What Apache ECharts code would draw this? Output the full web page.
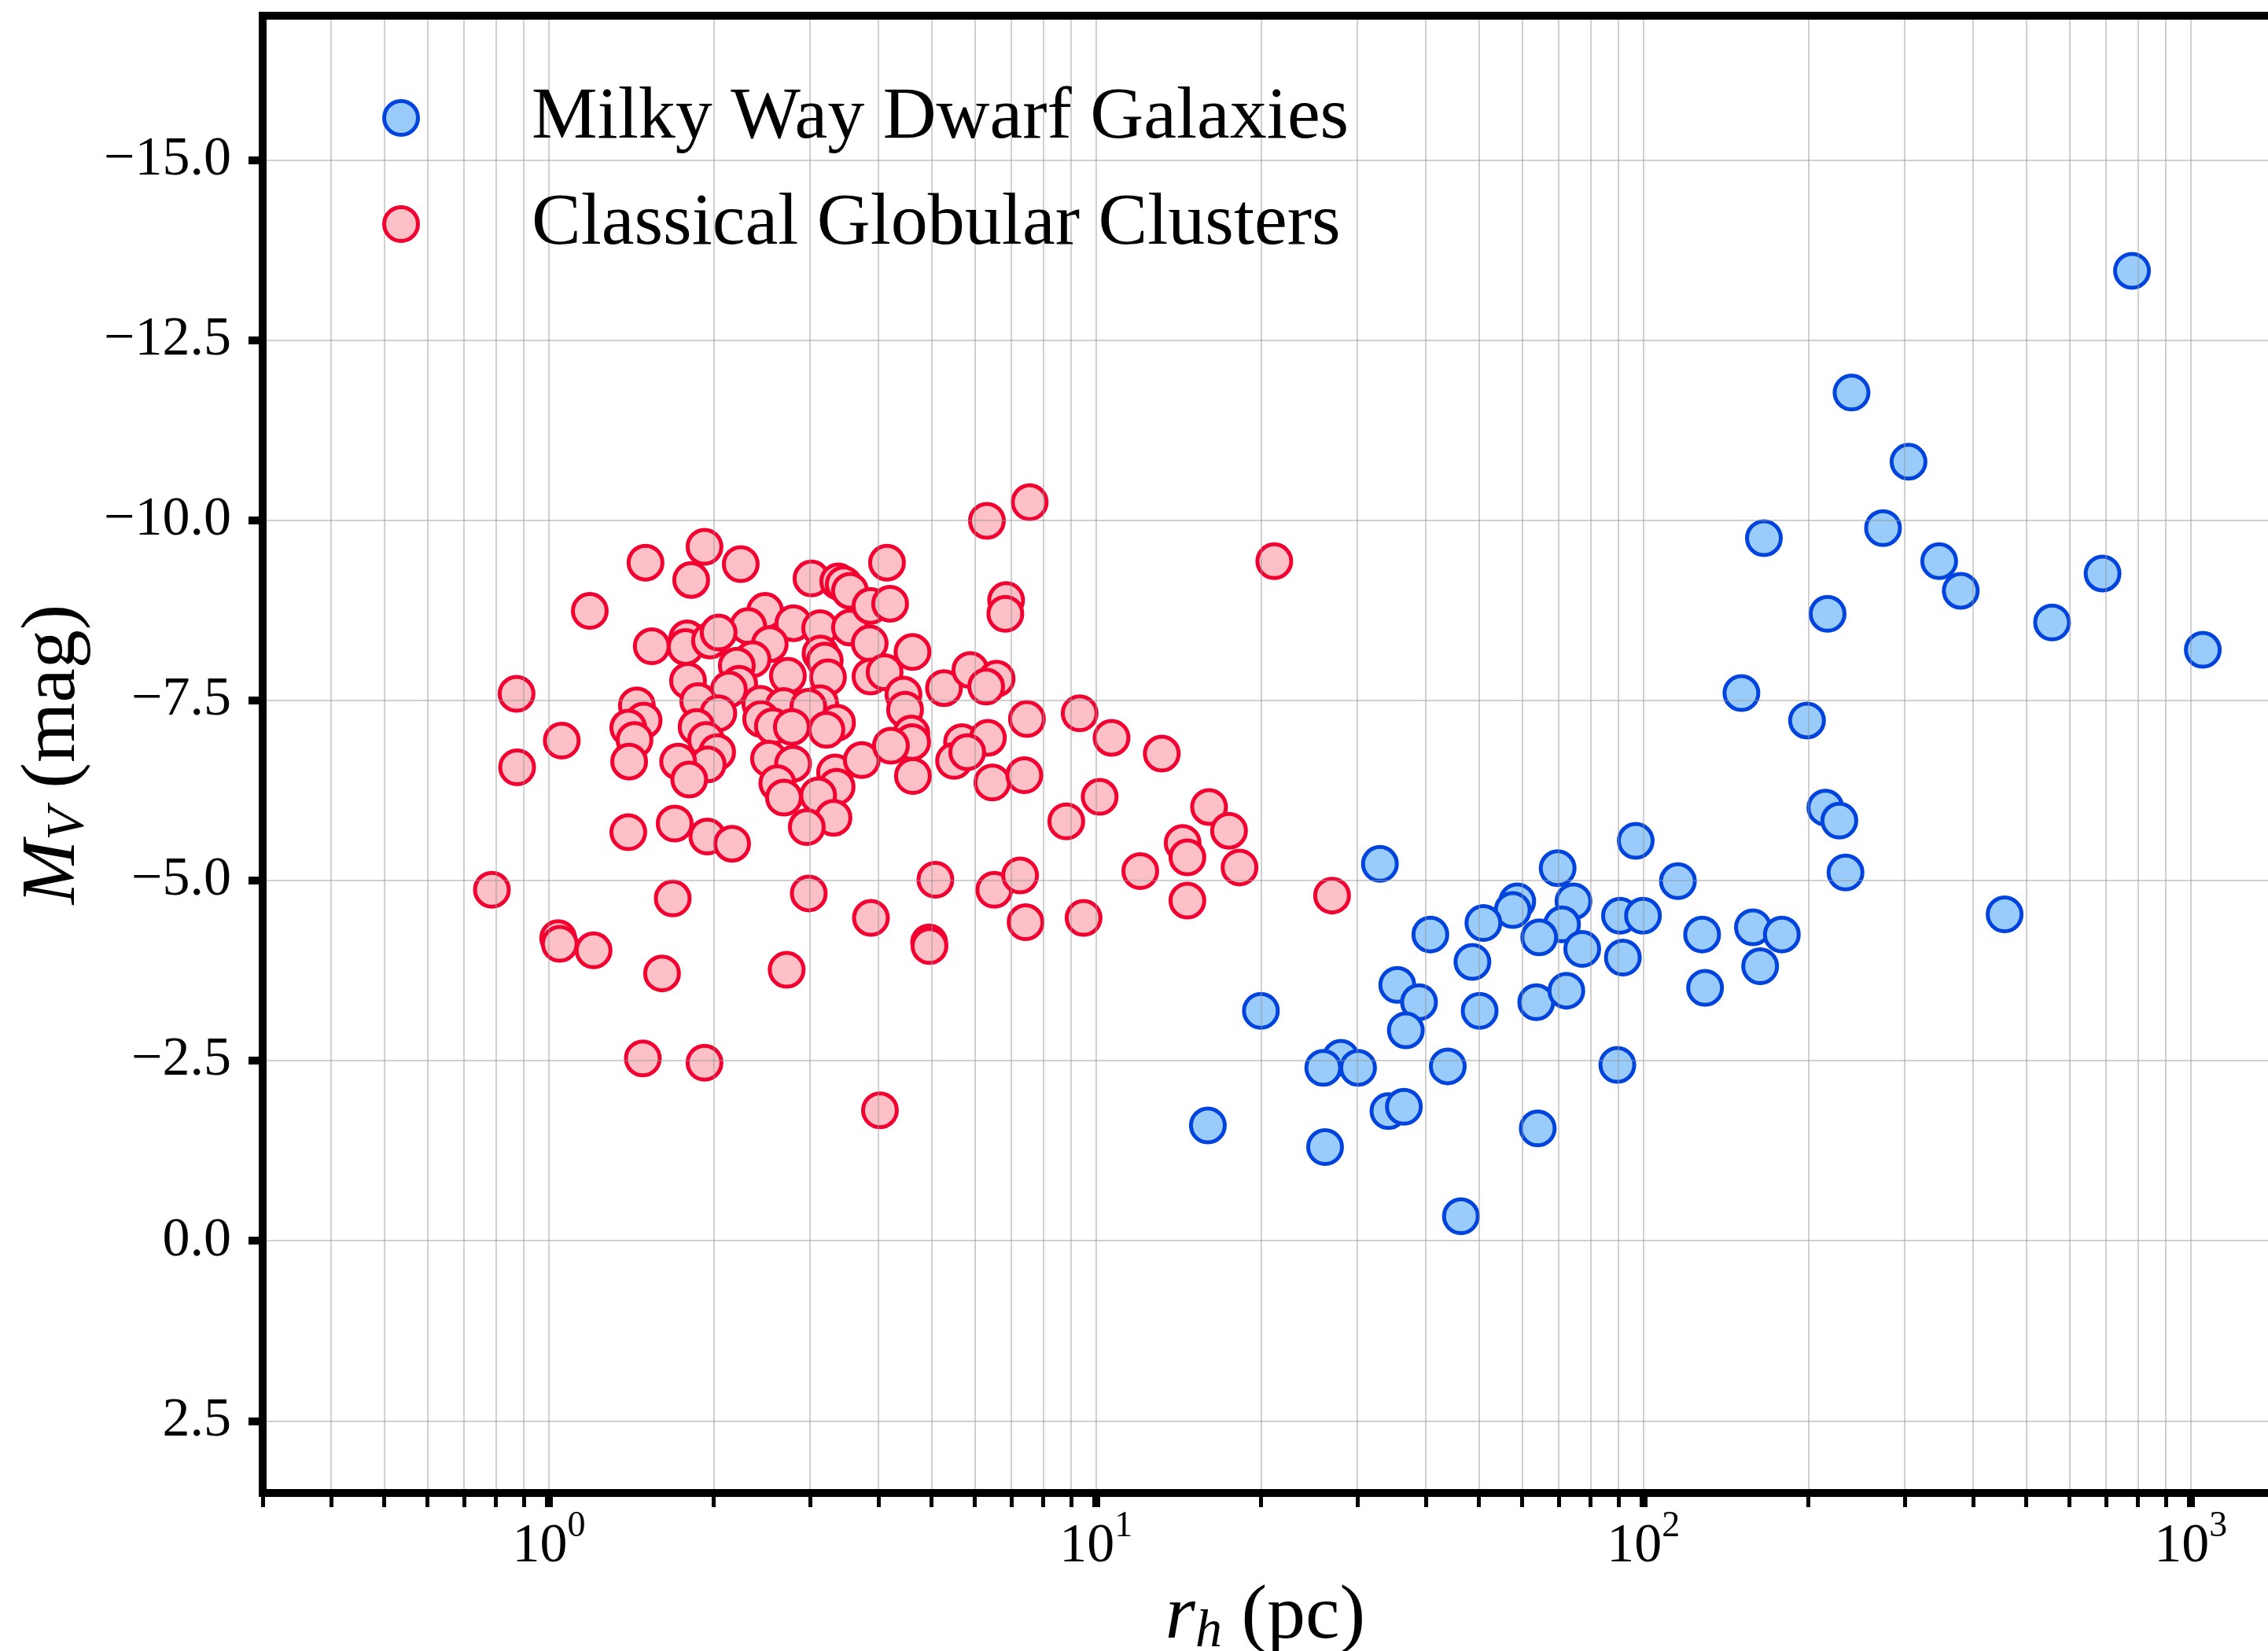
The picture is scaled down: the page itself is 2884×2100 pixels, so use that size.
<!DOCTYPE html>
<html>
<head>
<meta charset="utf-8">
<script src="https://cdn.jsdelivr.net/npm/echarts@6/dist/echarts.min.js"></script>
<style>
html,body{margin:0;padding:0;background:#ffffff;}
#chart{width:2884px;height:2100px;}
</style>
</head>
<body>
<div id="chart"></div>
<script>
// ---- data ----
const seriesNames = ['Milky Way Dwarf Galaxies', 'Classical Globular Clusters'];

const dwarfRh = [781, 240, 305, 274, 166, 347, 690, 380, 217, 558,
  1052, 151, 199, 215, 228, 234, 457, 33.0, 96.8, 69.7,
  115.6, 74.5, 58.8, 57.7, 71.0, 51.0, 90.6, 99.8, 64.5, 158.5,
  179, 128, 40.8, 77.3, 91.7, 48.7, 163.4, 35.5, 38.9, 63.7,
  72.3, 129.6, 50.2, 20.0, 36.8, 28.0, 26.0, 30.1, 43.9, 89.6,
  34.2, 36.5, 16.0, 64.1, 26.2, 46.4];
const dwarfMv = [-13.46, -11.77, -10.81, -9.89, -9.75, -9.43, -9.26, -9.02, -8.70, -8.58,
  -8.20, -7.60, -7.22, -6.01, -5.83, -5.11, -4.53, -5.23, -5.55, -5.17,
  -4.99, -4.71, -4.71, -4.59, -4.39, -4.41, -4.51, -4.51, -4.21, -4.35,
  -4.25, -4.25, -4.25, -4.05, -3.93, -3.87, -3.81, -3.55, -3.31, -3.31,
  -3.47, -3.51, -3.19, -3.19, -2.92, -2.54, -2.40, -2.40, -2.42, -2.44,
  -1.80, -1.86, -1.60, -1.56, -1.30, -0.34];

const gcRh = [0.787, 0.873, 0.875, 1.040, 1.047, 1.056, 1.188, 1.207, 1.397, 1.485,
  1.502, 1.610, 1.684, 1.698, 1.925, 1.925, 1.820, 2.242, 3.019, 3.379,
  3.458, 3.550, 2.484, 2.313, 2.798, 3.131, 3.550, 3.857, 1.542, 1.790,
  1.778, 1.970, 2.043, 2.533, 2.356, 2.205, 3.136, 3.193, 3.236, 2.734,
  1.796, 2.227, 2.133, 3.870, 4.107, 1.448, 1.490, 1.397, 1.434, 1.402,
  1.875, 2.040, 2.435, 2.685, 3.131, 2.980, 2.443, 2.567, 2.780, 3.362,
  3.215, 1.862, 1.938, 2.030, 1.951, 1.723, 1.805, 2.525, 2.794, 2.615,
  2.689, 3.334, 3.356, 3.105, 3.312, 2.960, 3.731, 1.948, 2.162, 2.985,
  2.720, 3.877, 4.027, 4.952, 4.960, 5.085, 6.316, 7.560, 4.148, 3.870,
  4.203, 6.847, 6.825, 4.618, 5.272, 5.890, 6.579, 6.295, 4.446, 4.476,
  7.474, 9.329, 10.67, 13.18, 4.596, 4.611, 4.217, 4.626, 5.688, 6.342,
  5.501, 5.813, 6.461, 7.392, 10.15, 8.820, 16.08, 14.39, 14.68, 12.04,
  14.68, 18.28, 17.49, 6.515, 7.262, 7.432, 9.485, 21.16, 26.98];
const gcMv = [-4.87, -7.59, -6.57, -4.20, -4.12, -6.94, -8.74, -4.03, -5.67, -2.53,
  -9.41, -3.71, -4.75, -5.79, -2.47, -9.63, -9.17, -9.39, -9.19, -9.15,
  -9.11, -9.02, -8.74, -8.53, -8.57, -8.50, -8.51, -8.29, -8.25, -8.36,
  -8.24, -8.33, -8.44, -8.28, -8.07, -7.98, -8.15, -8.05, -7.82, -7.84,
  -7.77, -7.73, -7.65, -7.83, -7.89, -7.43, -7.22, -7.12, -6.95, -6.65,
  -7.49, -7.32, -7.45, -7.42, -7.46, -7.41, -7.24, -7.14, -7.13, -7.19,
  -7.09, -7.13, -6.95, -6.78, -6.61, -6.65, -6.40, -6.69, -6.62, -6.35,
  -6.15, -6.50, -6.30, -6.18, -5.87, -5.74, -6.67, -5.61, -5.51, -4.82,
  -3.76, -4.48, -1.81, -4.14, -4.09, -5.01, -9.99, -10.25, -9.41, -8.81,
  -8.84, -8.89, -8.70, -8.17, -7.67, -7.92, -7.80, -7.69, -7.58, -7.37,
  -7.24, -7.32, -6.98, -6.76, -7.04, -6.92, -6.87, -6.45, -6.92, -6.98,
  -6.66, -6.78, -6.36, -6.46, -6.16, -5.82, -6.02, -5.52, -5.32, -5.13,
  -4.72, -5.18, -5.69, -4.87, -5.07, -4.42, -4.48, -9.43, -4.79];

// ---- ticks ----
const yTickValues = [-15, -12.5, -10, -7.5, -5, -2.5, 0, 2.5];
const xMajorTicks = [1, 10, 100, 1000];
const xMinorTicks = [0.3, 0.4, 0.5, 0.6, 0.7, 0.8, 0.9,
  2, 3, 4, 5, 6, 7, 8, 9,
  20, 30, 40, 50, 60, 70, 80, 90,
  200, 300, 400, 500, 600, 700, 800, 900];

// ---- chart ----
const FONT = 'Liberation Serif';
const GRID_COLOR = 'rgba(150,150,150,0.45)';
const SPINE = {color: '#000000', width: 10, cap: 'square'};
const X_MIN = 0.3, X_MAX = 1384;
function pairs(xs, ys) { return xs.map((x, i) => [x, ys[i]]); }

const chart = echarts.init(document.getElementById('chart'), null, {width: 2884, height: 2100});

const nameRich = {
  i: {fontFamily: FONT, fontStyle: 'italic', fontSize: 98, lineHeight: 106, color: '#000', verticalAlign: 'middle'},
  sub: {fontFamily: FONT, fontStyle: 'italic', fontSize: 68, lineHeight: 60, color: '#000', verticalAlign: 'bottom'},
  n: {fontFamily: FONT, fontSize: 98, lineHeight: 106, color: '#000', verticalAlign: 'middle'}
};

const option = {
  animation: false,
  backgroundColor: '#ffffff',
  grid: {left: 334, right: 0, top: 20, bottom: 201, show: false, containLabel: false, outerBoundsMode: 'none'},
  legend: {
    orient: 'vertical', left: 481, top: 98,
    itemWidth: 322, itemHeight: 43, itemGap: 41,
    selectedMode: false,
    data: seriesNames,
    textStyle: {fontFamily: FONT, fontSize: 94, color: '#000'},
    itemStyle: {borderWidth: 5}
  },
  xAxis: [
    {
      type: 'log', logBase: 10, min: X_MIN, max: X_MAX, position: 'bottom', z: 3,
      axisLine: {show: true, onZero: false, lineStyle: SPINE},
      axisTick: {show: true, customValues: xMajorTicks, length: 18, lineStyle: {color: '#000', width: 10}},
      axisLabel: {
        show: true, customValues: xMajorTicks, margin: 20,
        formatter: function (v) { return '{b|10}{s|' + Math.round(Math.log10(v)) + '}'; },
        rich: {
          b: {fontFamily: FONT, fontSize: 70, lineHeight: 84, color: '#000', verticalAlign: 'bottom'},
          s: {fontFamily: FONT, fontSize: 46, lineHeight: 46, color: '#000', verticalAlign: 'top'}
        }
      },
      splitLine: {show: true, lineStyle: {color: GRID_COLOR, width: 2}},
      name: '{i|r}{sub|h}{n| (pc)}', nameLocation: 'middle', nameGap: 103,
      nameTextStyle: {rich: nameRich}
    },
    {
      type: 'log', logBase: 10, min: X_MIN, max: X_MAX, position: 'bottom', z: 3,
      axisLine: {show: false, onZero: false},
      axisTick: {show: true, customValues: xMinorTicks, length: 18, lineStyle: {color: '#000', width: 5}},
      axisLabel: {show: false},
      splitLine: {show: true, lineStyle: {color: GRID_COLOR, width: 2}}
    },
    {
      type: 'log', logBase: 10, min: X_MIN, max: X_MAX, position: 'top', z: 3,
      axisLine: {show: true, onZero: false, lineStyle: SPINE},
      axisTick: {show: false},
      axisLabel: {show: false},
      splitLine: {show: false}
    }
  ],
  yAxis: {
    type: 'value', min: -17, max: 3.5, inverse: true, z: 3,
    axisLine: {show: true, onZero: false, lineStyle: SPINE},
    axisTick: {show: true, customValues: yTickValues, length: 18, lineStyle: {color: '#000', width: 10}},
    axisLabel: {
      show: true, customValues: yTickValues, margin: 40,
      fontFamily: FONT, fontSize: 70, color: '#000',
      formatter: function (v) { return (v < 0 ? '\u2212' : '') + Math.abs(v).toFixed(1); }
    },
    splitLine: {show: true, lineStyle: {color: GRID_COLOR, width: 2}},
    name: '{i|M}{sub|V}{n| (mag)}', nameLocation: 'middle', nameGap: 200, nameRotate: 90,
    nameTextStyle: {rich: nameRich}
  },
  series: [
    {
      name: seriesNames[0], type: 'scatter', xAxisIndex: 0, yAxisIndex: 0,
      data: pairs(dwarfRh, dwarfMv),
      symbol: 'circle', symbolSize: 43, z: 2, silent: true,
      itemStyle: {color: '#99ccfa', borderColor: '#0044dd', borderWidth: 5, opacity: 1},
      emphasis: {disabled: true}
    },
    {
      name: seriesNames[1], type: 'scatter', xAxisIndex: 0, yAxisIndex: 0,
      data: pairs(gcRh, gcMv),
      symbol: 'circle', symbolSize: 43, z: 2, silent: true,
      itemStyle: {color: '#fcc0c6', borderColor: '#f20030', borderWidth: 5, opacity: 1},
      emphasis: {disabled: true}
    }
  ]
};
chart.setOption(option);
</script>
</body>
</html>
